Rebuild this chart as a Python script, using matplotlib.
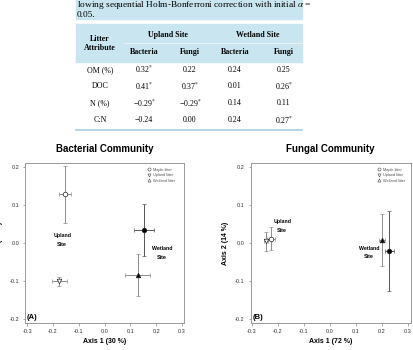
import matplotlib
matplotlib.use("Agg")
import matplotlib.pyplot as plt
from matplotlib.patches import Rectangle
from matplotlib.lines import Line2D
from matplotlib.ticker import FormatStrFormatter

plt.rcParams['axes.unicode_minus'] = False
plt.rcParams['mathtext.fontset'] = 'stix'

W, H = 413, 350

# --- table data (cropped correlation table) ---
caption_lines = ["lowing sequential Holm-Bonferroni correction with initial $\\alpha$ =", "0.05."]
row_labels = ["OM (%)", "DOC", "N (%)", "C:N"]
site_headers = ["Upland Site", "Wetland Site"]
group_headers = ["Bacteria", "Fungi", "Bacteria", "Fungi"]
up_bacteria = [0.32, 0.41, -0.29, -0.24]
up_fungi = [0.22, 0.37, -0.29, 0.00]
wet_bacteria = [0.24, 0.01, 0.14, 0.24]
wet_fungi = [0.25, 0.26, 0.11, 0.27]
up_bacteria_sig = [True, True, True, False]
up_fungi_sig = [False, True, True, False]
wet_bacteria_sig = [False, False, False, False]
wet_fungi_sig = [False, True, False, True]

# --- ordination data: order = maple@upland, upland litter, maple@wetland, wetland litter ---
bact_x = [-0.153, -0.175, 0.154, 0.128]
bact_y = [0.128, -0.100, 0.034, -0.084]
bact_xerr = [0.022, 0.029, 0.039, 0.047]
bact_yerr = [0.075, 0.012, 0.068, 0.054]

fung_x = [-0.226, -0.244, 0.227, 0.200]
fung_y = [0.011, 0.004, -0.020, 0.008]
fung_xerr = [0.016, 0.008, 0.017, 0.010]
fung_yerr = [0.030, 0.025, 0.105, 0.068]

legend_labels = ["Maple litter", "Upland litter", "Wetland litter"]

BLUE = '#c9e5ef'
LINE_BLUE = '#a6d2e2'


def fx(x):
    return x / W


def fy(y):
    return 1 - y / H


fig = plt.figure(figsize=(W / 100, H / 100), dpi=100)

# caption band and table header band
fig.patches.append(Rectangle((fx(76), fy(19)), fx(302) - fx(76), 19 / H,
                             transform=fig.transFigure, color=BLUE, zorder=0))
fig.patches.append(Rectangle((fx(76), fy(62)), fx(302) - fx(76), 38 / H,
                             transform=fig.transFigure, color=BLUE, zorder=0))
fig.add_artist(Line2D([fx(124), fx(302)], [fy(43), fy(43)], transform=fig.transFigure,
                      color='#e4f2f7', lw=0.8))
fig.add_artist(Line2D([fx(76), fx(302)], [fy(129.5), fy(129.5)], transform=fig.transFigure,
                      color=LINE_BLUE, lw=1.2))

serif = 'Liberation Serif'
fig.text(fx(77), fy(5), caption_lines[0], family=serif, fontsize=6.75, va='center', ha='left')
fig.text(fx(77), fy(15), caption_lines[1], family=serif, fontsize=6.75, va='center', ha='left')

fig.text(fx(100), fy(39), "Litter", family=serif, fontsize=5.7, weight='bold', ha='center', va='center')
fig.text(fx(100), fy(48.5), "Attribute", family=serif, fontsize=5.7, weight='bold', ha='center', va='center')
for xc, s in zip([168, 258], site_headers):
    fig.text(fx(xc), fy(35), s, family=serif, fontsize=5.7, weight='bold', ha='center', va='center')
col_x = [144, 190, 235, 284]
for xc, s in zip(col_x, group_headers):
    fig.text(fx(xc), fy(52.5), s, family=serif, fontsize=5.7, weight='bold', ha='center', va='center')

row_y = [69.7, 86.3, 103.3, 120]
cols = [(up_bacteria, up_bacteria_sig), (up_fungi, up_fungi_sig),
        (wet_bacteria, wet_bacteria_sig), (wet_fungi, wet_fungi_sig)]
for i, lab in enumerate(row_labels):
    fig.text(fx(100), fy(row_y[i]), lab, family=serif, fontsize=5.7, ha='center', va='center')
    for xc, (vals, sig) in zip(col_x, cols):
        v = vals[i]
        s = f"{v:.2f}".replace('-', '\u2212')
        if sig[i]:
            s += "$^{*}$"
        fig.text(fx(xc), fy(row_y[i]), s, family=serif, fontsize=5.7, ha='center', va='center')

# --- ordination panels ---
sans = 'Liberation Sans'
markers = ['o', 'v', 'o', '^']
faces = ['white', 'white', 'black', 'black']
ecols = ['#8c8c8c', '#8c8c8c', '#555555', '#8c8c8c']

panels = [
    (bact_x, bact_y, bact_xerr, bact_yerr, "Bacterial Community", "Axis 1 (30 %)", "Axis 2 (19 %)", "(A)",
     [25, 163, 184, 323], (-0.308, 0.308), [(-0.164, 0.008), (0.222, -0.026)], (0.945, 0.97)),
    (fung_x, fung_y, fung_xerr, fung_yerr, "Fungal Community", "Axis 1 (72 %)", "Axis 2 (14 %)", "(B)",
     [250.7, 163, 410.7, 323], (-0.304, 0.31), [(-0.183, 0.044), (0.15, -0.025)], (0.965, 0.97)),
]

for xs, ys, xe, ye, title, xlab, ylab, tag, box, xlim, site_pos, leg_anchor in panels:
    l, t, r, b = box
    ax = fig.add_axes([fx(l), fy(b), (r - l) / W, (b - t) / H])
    for i in range(len(xs)):
        ax.errorbar(xs[i], ys[i], xerr=xe[i], yerr=ye[i], fmt=markers[i], mfc=faces[i], mec='#222222',
                    ms=3.3, mew=0.5, ecolor=ecols[i], elinewidth=0.7, capsize=1.4, capthick=0.6, zorder=3)
    ax.set_xlim(*xlim)
    ax.set_ylim(-0.21, 0.21)
    ax.set_xticks([-0.3, -0.2, -0.1, 0.0, 0.1, 0.2, 0.3])
    ax.set_yticks([-0.2, -0.1, 0.0, 0.1, 0.2])
    ax.xaxis.set_major_formatter(FormatStrFormatter('%.1f'))
    ax.yaxis.set_major_formatter(FormatStrFormatter('%.1f'))
    ax.tick_params(labelsize=4, length=1.8, width=0.5, color='#888888', labelcolor='#333333', pad=2.5)
    for sp in ax.spines.values():
        sp.set_color('#999999')
        sp.set_linewidth(0.7)
    for lab in ax.get_xticklabels() + ax.get_yticklabels():
        lab.set_family(sans)

    ax.set_xlabel(xlab, family=sans, fontsize=5, weight='bold')
    ax.set_ylabel(ylab, family=sans, fontsize=5, weight='bold')
    ax.xaxis.set_label_coords(0.5, -0.095)
    ax.yaxis.set_label_coords(-0.137, 0.5)

    fig.text((fx(l) + fx(r)) / 2, fy(149), title, family=sans, fontsize=7, weight='bold',
             ha='center', va='center')
    ax.text(0.012, 0.012, tag, transform=ax.transAxes, family=sans, fontsize=5.5, weight='bold',
            ha='left', va='bottom')
    for (sx, sy), name in zip(site_pos, ["Upland\nSite", "Wetland\nSite"]):
        ax.text(sx, sy, name, family=sans, fontsize=3.8, weight='bold', ha='center', va='center',
                linespacing=1.9)

    handles = [Line2D([], [], ls='none', marker=m, mfc='white', mec='#444444', ms=2.2, mew=0.4)
               for m in ['o', 'v', '^']]
    ax.legend(handles, legend_labels, loc='upper right', bbox_to_anchor=leg_anchor, frameon=False,
              prop={'family': sans, 'size': 2.8}, handlelength=1.0, handletextpad=0.6,
              labelspacing=0.35, borderpad=0, borderaxespad=0, labelcolor='#555555')

fig.savefig("out.png", dpi=100)
